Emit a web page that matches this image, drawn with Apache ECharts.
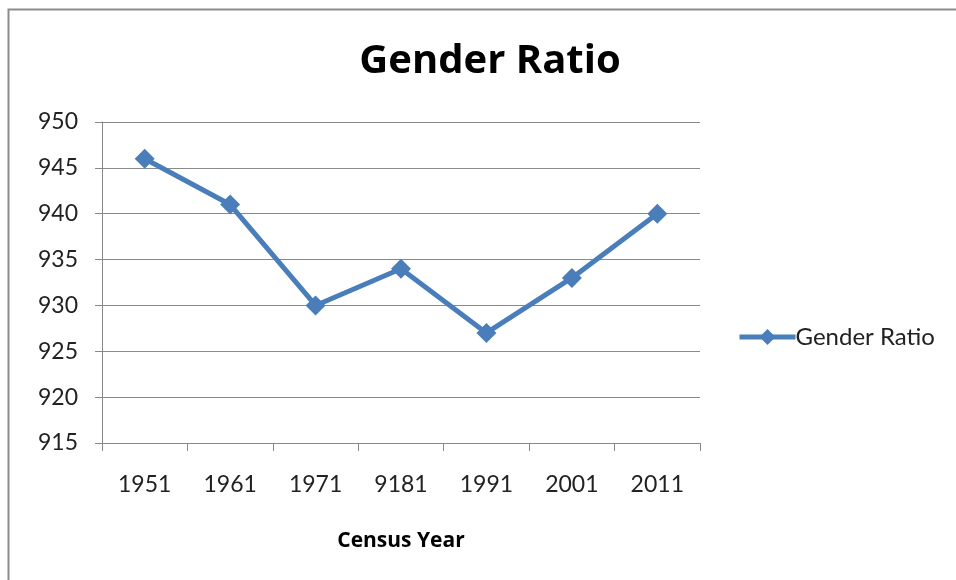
<!DOCTYPE html>
<html>
<head>
<meta charset="utf-8">
<script src="https://cdn.jsdelivr.net/npm/echarts@6/dist/echarts.min.js"></script>
<style>
  html, body { margin: 0; padding: 0; background: #fff; }
  #chart { width: 956px; height: 580px; }
</style>
</head>
<body>
<div id="chart"></div>
<script>
// census years (as printed on the chart) and gender ratio values
var years = ['1951', '1961', '1971', '9181', '1991', '2001', '2011'];
var genderRatio = [946, 941, 930, 934, 927, 933, 940];
var yMin = 915, yMax = 950, yStep = 5;

var myChart = echarts.init(document.getElementById('chart'));
var font = 'Lato, "Open Sans", sans-serif';
var boldFont = '"Open Sans", Lato, sans-serif';

var option = {
    backgroundColor: '#fff',
    animation: false,
    textStyle: { fontFamily: font },
    graphic: [{
        type: 'rect',
        shape: { x: 8.5, y: 9.5, width: 1000, height: 1000 },
        style: { fill: 'none', stroke: '#8c8c8c', lineWidth: 2 }
    }],
    title: {
        text: 'Gender Ratio',
        left: 485,
        top: 37,
        textAlign: 'center',
        textStyle: { fontFamily: boldFont, fontSize: 40, fontWeight: 'bold', color: '#000' }
    },
    legend: {
        data: ['Gender Ratio'],
        left: 737,
        top: 325,
        padding: 0,
        itemWidth: 56,
        itemHeight: 20,
        itemGap: 0,
        lineStyle: { width: 5 },
        textStyle: { fontFamily: font, fontSize: 24, color: '#222', padding: [0, 0, 0, -5] }
    },
    grid: { left: 102, right: 256, top: 122, bottom: 137 },
    xAxis: {
        type: 'category',
        data: years,
        boundaryGap: true,
        name: 'Census Year',
        nameLocation: 'middle',
        nameGap: 88,
        nameTextStyle: { fontFamily: boldFont, fontSize: 21, fontWeight: 'bold', color: '#000' },
        axisLine: { lineStyle: { color: '#888', width: 1 } },
        axisTick: { show: true, length: 8, alignWithLabel: false, lineStyle: { color: '#888' } },
        axisLabel: { fontFamily: font, fontSize: 23, color: '#222', margin: 30 }
    },
    yAxis: {
        type: 'value',
        min: yMin,
        max: yMax,
        interval: yStep,
        axisLine: { show: true, lineStyle: { color: '#888', width: 1 } },
        axisTick: { show: true, inside: false, length: 7, lineStyle: { color: '#888' } },
        axisLabel: { fontFamily: font, fontSize: 23, color: '#222', margin: 24 },
        splitLine: { show: true, lineStyle: { color: '#8a8a8a', width: 1 } }
    },
    series: [{
        name: 'Gender Ratio',
        type: 'line',
        data: genderRatio,
        symbol: 'diamond',
        symbolSize: 20,
        itemStyle: { color: '#4a7ebb' },
        lineStyle: { color: '#4a7ebb', width: 5 }
    }]
};

myChart.setOption(option);
</script>
</body>
</html>
